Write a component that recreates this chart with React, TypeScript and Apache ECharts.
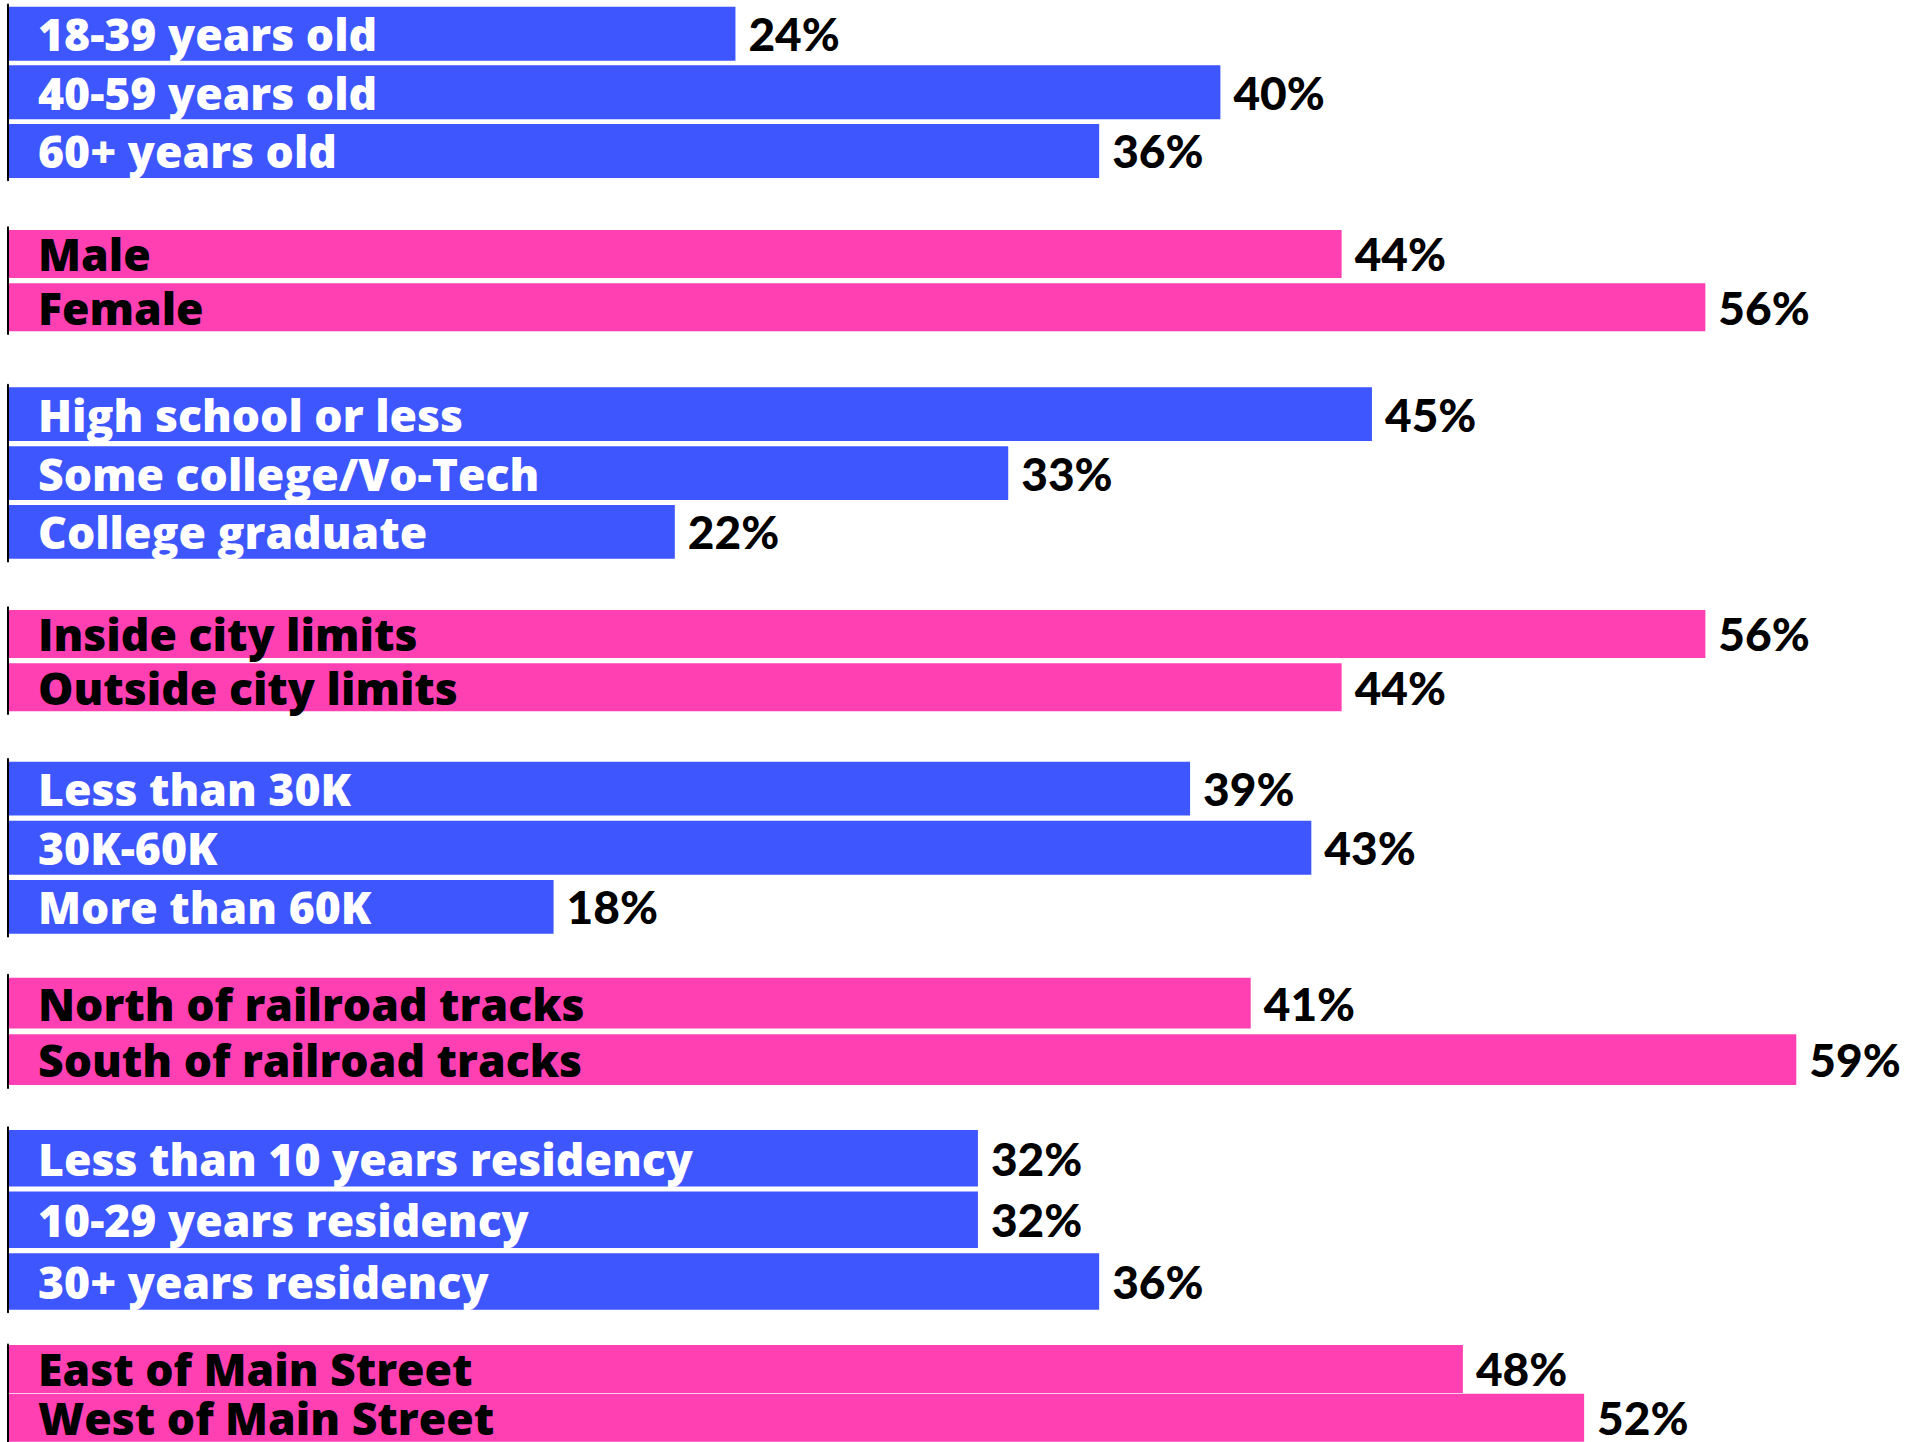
import React, { useEffect, useRef } from "react";
import * as echarts from "echarts";

// ---- Data ----
const ageCats = ["18-39 years old", "40-59 years old", "60+ years old"];
const ageVals = [24, 40, 36];
const genderCats = ["Male", "Female"];
const genderVals = [44, 56];
const eduCats = ["High school or less", "Some college/Vo-Tech", "College graduate"];
const eduVals = [45, 33, 22];
const cityCats = ["Inside city limits", "Outside city limits"];
const cityVals = [56, 44];
const incomeCats = ["Less than 30K", "30K-60K", "More than 60K"];
const incomeVals = [39, 43, 18];
const railCats = ["North of railroad tracks", "South of railroad tracks"];
const railVals = [41, 59];
const resCats = ["Less than 10 years residency", "10-29 years residency", "30+ years residency"];
const resVals = [32, 32, 36];
const mainCats = ["East of Main Street", "West of Main Street"];
const mainVals = [48, 52];

const groups = [
  { cats: ageCats, vals: ageVals, kind: "blue" },
  { cats: genderCats, vals: genderVals, kind: "pink" },
  { cats: eduCats, vals: eduVals, kind: "blue" },
  { cats: cityCats, vals: cityVals, kind: "pink" },
  { cats: incomeCats, vals: incomeVals, kind: "blue" },
  { cats: railCats, vals: railVals, kind: "pink" },
  { cats: resCats, vals: resVals, kind: "blue" },
  { cats: mainCats, vals: mainVals, kind: "pink" },
];

// ---- Layout (pixels) ----
const layout = [
  { top: 4.4, height: 175.8, bar: 54 },
  { top: 227.3, height: 106.6, bar: 48 },
  { top: 384.7, height: 176.7, bar: 53.7 },
  { top: 607.3, height: 106.6, bar: 48 },
  { top: 759, height: 177.5, bar: 53.8 },
  { top: 974.8, height: 113.2, bar: 50.8 },
  { top: 1127.3, height: 185, bar: 56.5 },
  { top: 1344.6, height: 106.8, bar: 48 },
];

const BLUE = "#3D56FE";
const PINK = "#FE40B3";
const CAT_FONT = "Open Sans";
const VAL_FONT = "Lato";
const GRID_LEFT = 8;
const X_MAX = 60;
const PX_PER_UNIT = 30.31;

export default function App() {
  const ref = useRef<HTMLDivElement>(null);

  useEffect(() => {
    if (!ref.current) return;
    const chart = echarts.init(ref.current, undefined, { renderer: "svg" });

    const grid: any[] = [];
    const xAxis: any[] = [];
    const yAxis: any[] = [];
    const series: any[] = [];

    groups.forEach((g, i) => {
      const l = layout[i];
      const isBlue = g.kind === "blue";
      grid.push({
        left: GRID_LEFT,
        top: l.top,
        width: X_MAX * PX_PER_UNIT,
        height: l.height,
        containLabel: false,
      });
      xAxis.push({
        type: "value",
        gridIndex: i,
        min: 0,
        max: X_MAX,
        show: false,
        splitLine: { show: false },
      });
      yAxis.push({
        type: "category",
        gridIndex: i,
        data: g.cats,
        inverse: true,
        z: 10,
        axisLine: { show: true, lineStyle: { color: "#000", width: 2 } },
        axisTick: { show: false },
        splitLine: { show: false },
        axisLabel: {
          show: true,
          inside: true,
          interval: 0,
          margin: 30,
          color: isBlue ? "#fff" : "#000",
          fontFamily: CAT_FONT,
          fontWeight: 800,
          fontSize: 44.5,
          lineHeight: 44,
          padding: [0, 0, 4, 0],
        },
      });
      series.push({
        type: "bar",
        xAxisIndex: i,
        yAxisIndex: i,
        data: g.vals,
        barWidth: l.bar,
        itemStyle: { color: isBlue ? BLUE : PINK },
        label: {
          show: true,
          position: "right",
          distance: 13,
          formatter: "{c}%",
          color: "#000",
          fontFamily: VAL_FONT,
          fontWeight: 900,
          fontSize: 46,
        },
      });
    });

    chart.setOption({
      animation: false,
      backgroundColor: "#fff",
      grid,
      xAxis,
      yAxis,
      series,
    });

    return () => chart.dispose();
  }, []);

  return (
    <div
      ref={ref}
      style={{ position: "absolute", left: 0, top: 0, width: 1919, height: 1442 }}
    />
  );
}
